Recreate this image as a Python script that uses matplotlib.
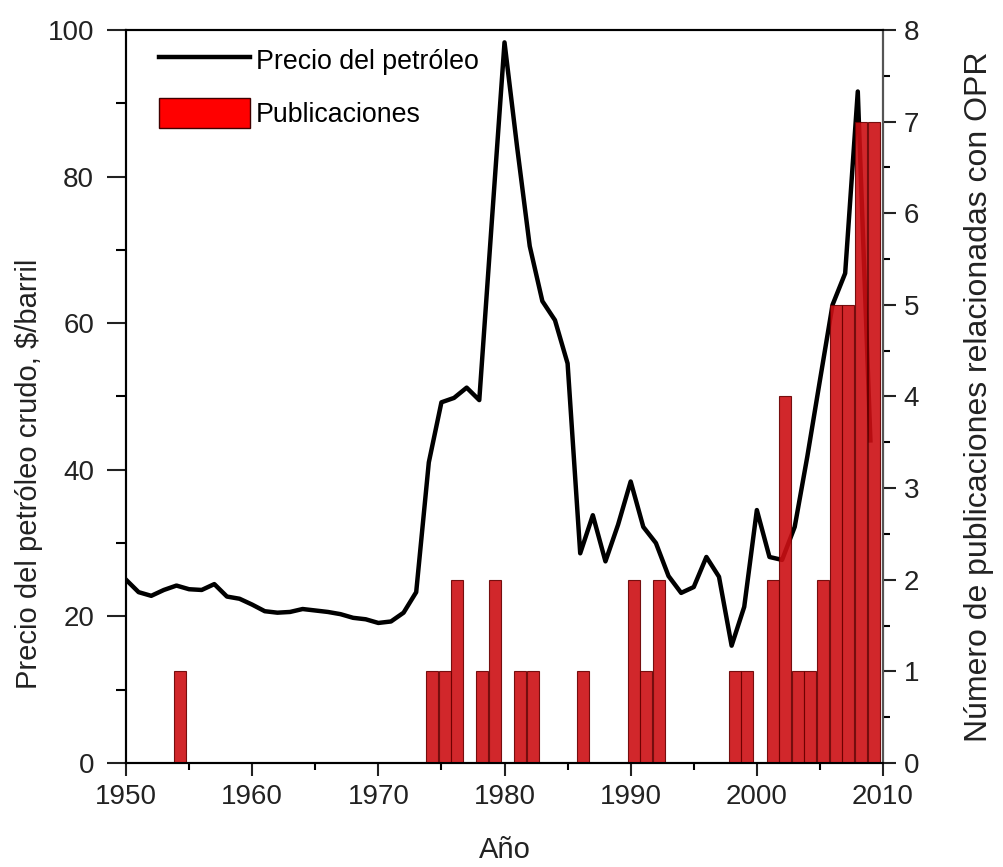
import numpy as np
import matplotlib.pyplot as plt
from matplotlib.lines import Line2D
from matplotlib.patches import Patch
from matplotlib.ticker import MultipleLocator

plt.rcParams['font.family'] = ['Liberation Sans', 'DejaVu Sans']

# Oil price (left axis)
years = list(range(1950, 2010))
price = [25.0, 23.3, 22.8, 23.6, 24.2, 23.7, 23.6, 24.4, 22.7, 22.4,
         21.6, 20.7, 20.5, 20.6, 21.0, 20.8, 20.6, 20.3, 19.8, 19.6,
         19.1, 19.3, 20.5, 23.3, 41.0, 49.2, 49.8, 51.2, 49.5, 74.0,
         98.3, 84.0, 70.5, 63.0, 60.4, 54.5, 28.6, 33.8, 27.5, 32.5,
         38.4, 32.2, 30.0, 25.5, 23.2, 24.0, 28.1, 25.4, 16.0, 21.3,
         34.5, 28.1, 27.7, 32.2, 41.8, 52.2, 62.5, 66.8, 91.6, 44.0]

# Publications per year (right axis)
pub_years = [1954, 1974, 1975, 1976, 1978, 1979, 1981, 1982, 1986, 1990,
             1991, 1992, 1998, 1999, 2001, 2002, 2003, 2004, 2005, 2006,
             2007, 2008, 2009]
pubs = [1, 1, 1, 2, 1, 2, 1, 1, 1, 2,
        1, 2, 1, 1, 2, 4, 1, 1, 2, 5,
        5, 7, 7]

fig = plt.figure(figsize=(10.04, 8.67), dpi=100)
ax1 = fig.add_axes([0.1255, 0.12, 0.754, 0.8455])
ax2 = ax1.twinx()

ax1.plot(years, price, color='black', lw=3.2, solid_joinstyle='round')
ax2.bar(np.array(pub_years) + 0.25, pubs, width=0.95, color='#cc0f14',
        edgecolor='#6a0000', linewidth=0.8, alpha=0.9)

ax1.set_xlim(1950, 2010)
ax1.set_ylim(0, 100)
ax2.set_ylim(0, 8)

ax1.xaxis.set_major_locator(MultipleLocator(10))
ax1.xaxis.set_minor_locator(MultipleLocator(5))
ax1.yaxis.set_major_locator(MultipleLocator(20))
ax1.yaxis.set_minor_locator(MultipleLocator(10))
ax2.yaxis.set_major_locator(MultipleLocator(1))
ax2.yaxis.set_minor_locator(MultipleLocator(0.5))

for ax in (ax1, ax2):
    for s in ax.spines.values():
        s.set_linewidth(1.5)
    ax.tick_params(which='major', direction='out', length=9, width=1.5,
                   labelsize=20, colors='#222222', pad=6)
    ax.tick_params(which='minor', direction='out', length=5, width=1.5)
ax1.tick_params(axis='y', which='major', length=14, pad=9)
ax1.tick_params(axis='y', which='minor', length=7)
ax2.spines['right'].set_color('#555555')

ax1.set_xlabel('Año', fontsize=21, color='#222222')
ax1.xaxis.set_label_coords(0.5, -0.1)
ax1.set_ylabel('Precio del petróleo crudo, $/barril', fontsize=21,
               color='#222222')
ax1.yaxis.set_label_coords(-0.11, 0.394)
ax2.set_ylabel('Número de publicaciones relacionadas con OPR', fontsize=23,
               color='#222222')
ax2.yaxis.set_label_coords(1.107, 0.5)

handles = [Line2D([], [], color='black', lw=3.2),
           Patch(facecolor='#ff0000', edgecolor='#400000', linewidth=1)]
ax2.legend(handles, ['Precio del petróleo', 'Publicaciones'],
           loc='upper left', frameon=False, fontsize=19.3, handlelength=3.4,
           handleheight=1.35, handletextpad=0.2, labelspacing=0.85,
           bbox_to_anchor=(0.012, 1.012))

fig.savefig('out.png', dpi=100)
